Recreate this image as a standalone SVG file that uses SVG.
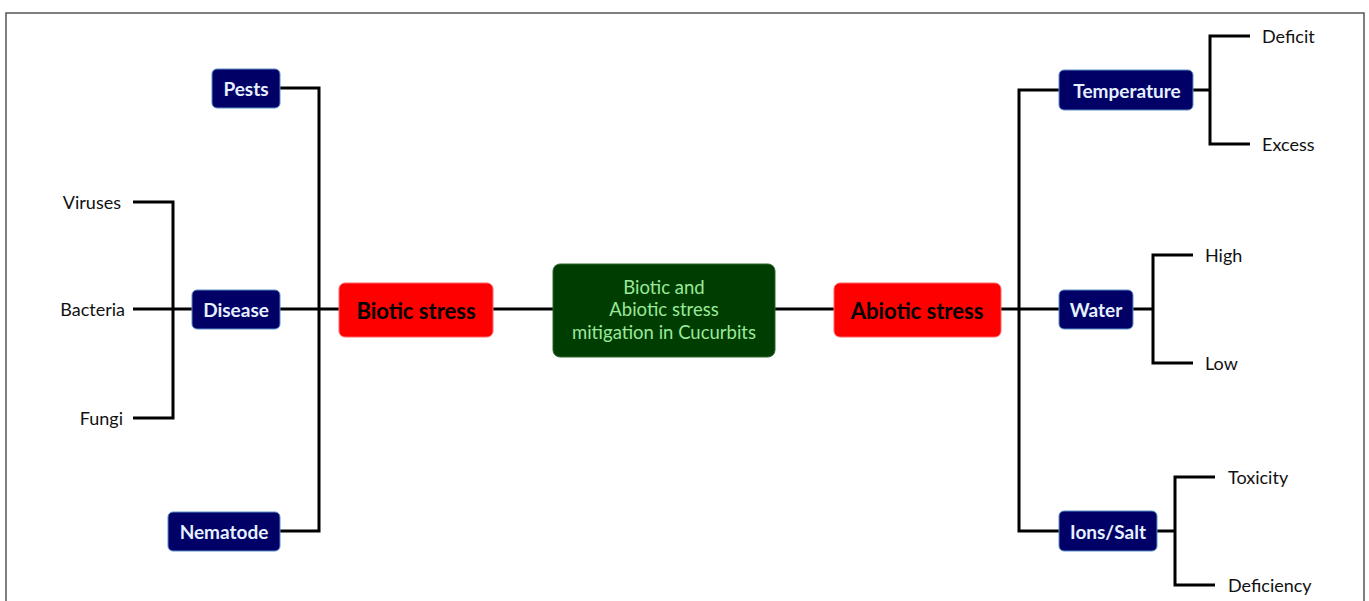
<svg xmlns="http://www.w3.org/2000/svg" width="1369" height="601" viewBox="0 0 1369 601">
<style>
.frame{fill:#fff;stroke:#555;stroke-width:1.5}
.ln{fill:none;stroke:#000;stroke-width:3;stroke-linejoin:miter}
.nv{fill:#000066;stroke:#5b8fc7;stroke-width:1}
.rd{fill:#ff0000;stroke:#ff6666;stroke-width:1}
.gr{fill:#003d00;stroke:#2a6a2a;stroke-width:1}
text{font-family:"Lato","Liberation Sans",sans-serif;dominant-baseline:central}
.nt{fill:#e6f0ff;font-size:19px;font-weight:bold;text-anchor:middle}
.rt{fill:#000;font-size:22px;font-weight:bold;text-anchor:middle}
.gt{fill:#9be89b;font-size:18.5px;text-anchor:middle}
.lf{fill:#111;font-size:18px}
</style>
<rect class="frame" x="6" y="13" width="1358" height="600"/>
<g id="connectors">
<path class="ln" d="M280,88 H319 V531 H280"/>
<path class="ln" d="M133,309 H192 M280,309 H339 M493,309 H553"/>
<path class="ln" d="M133,202 H173 V418 H133"/>
<path class="ln" d="M775,309 H834 M1001,309 H1059"/>
<path class="ln" d="M1059,90 H1019 V531 H1059"/>
<path class="ln" d="M1193,90 H1210 M1250,36 H1210 V144 H1250"/>
<path class="ln" d="M1133,309 H1153 M1193,255 H1153 V363 H1193"/>
<path class="ln" d="M1157,531 H1175 M1215,477 H1175 V585 H1215"/>
</g>
<g id="center"><rect class="gr" x="553" y="264" width="222" height="93" rx="7"/>
<text class="gt" x="664" y="287">Biotic and</text>
<text class="gt" x="664" y="309">Abiotic stress</text>
<text class="gt" x="664" y="332">mitigation in Cucurbits</text></g>
<g id="biotic"><rect class="rd" x="339" y="283" width="154" height="54" rx="6"/><text class="rt" x="416" y="310">Biotic stress</text></g>
<g id="abiotic"><rect class="rd" x="834" y="283" width="167" height="54" rx="6"/><text class="rt" x="917" y="310">Abiotic stress</text></g>
<g id="pests"><rect class="nv" x="212" y="69" width="68" height="39" rx="5"/><text class="nt" x="246" y="88">Pests</text></g>
<g id="disease"><rect class="nv" x="192" y="290" width="88" height="39" rx="5"/><text class="nt" x="236" y="309">Disease</text></g>
<g id="nematode"><rect class="nv" x="168" y="512" width="112" height="39" rx="5"/><text class="nt" x="224" y="531">Nematode</text></g>
<g id="temperature"><rect class="nv" x="1059" y="70" width="134" height="40" rx="5"/><text class="nt" x="1127" y="90">Temperature</text></g>
<g id="water"><rect class="nv" x="1059" y="290" width="74" height="39" rx="5"/><text class="nt" x="1096" y="309">Water</text></g>
<g id="ions"><rect class="nv" x="1059" y="511" width="98" height="40" rx="5"/><text class="nt" x="1108" y="531">Ions/Salt</text></g>
<g id="viruses"><text class="lf" x="121" y="202" text-anchor="end">Viruses</text></g>
<g id="bacteria"><text class="lf" x="125" y="309" text-anchor="end">Bacteria</text></g>
<g id="fungi"><text class="lf" x="123" y="418" text-anchor="end">Fungi</text></g>
<g id="deficit"><text class="lf" x="1262" y="36">Deficit</text></g>
<g id="excess"><text class="lf" x="1262" y="144">Excess</text></g>
<g id="high"><text class="lf" x="1205" y="255">High</text></g>
<g id="low"><text class="lf" x="1205" y="363">Low</text></g>
<g id="toxicity"><text class="lf" x="1228" y="477">Toxicity</text></g>
<g id="deficiency"><text class="lf" x="1228" y="585">Deficiency</text></g>
</svg>
